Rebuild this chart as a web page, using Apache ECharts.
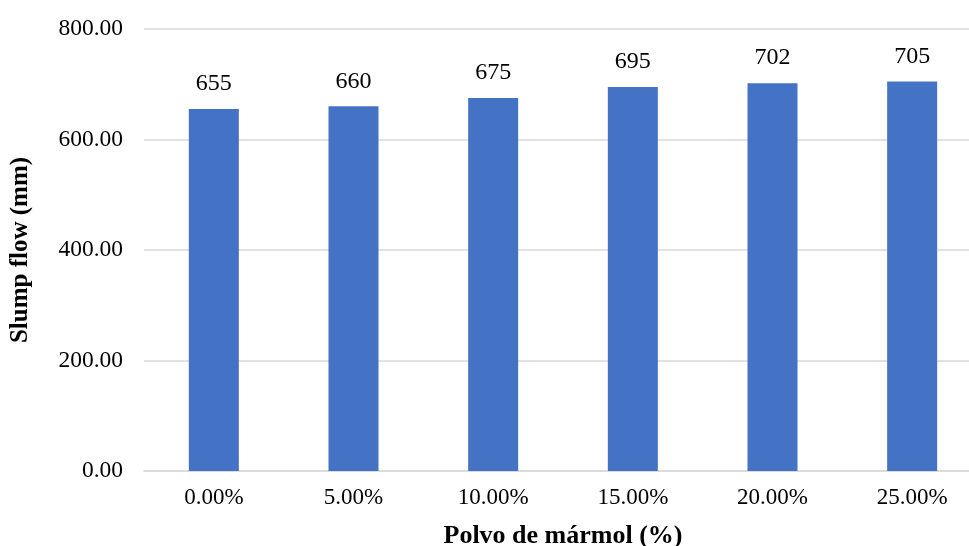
<!DOCTYPE html>
<html>
<head>
<meta charset="utf-8">
<script src="https://cdn.jsdelivr.net/npm/echarts@6/dist/echarts.min.js"></script>
<style>html,body{margin:0;padding:0;background:#fff;overflow:hidden;}#c{width:969px;height:546px;}</style>
</head>
<body>
<div id="c"></div>
<script>
const categories = ['0.00%', '5.00%', '10.00%', '15.00%', '20.00%', '25.00%'];
const slumpFlow = [655, 660, 675, 695, 702, 705];
const yTicks = [0, 200, 400, 600, 800];
const xTitle = 'Polvo de mármol (%)';
const yTitle = 'Slump flow (mm)';

const FONT = '"Liberation Serif", "Times New Roman", serif';
const chart = echarts.init(document.getElementById('c'), null, {renderer: 'canvas', width: 969, height: 546});
chart.setOption({
  animation: false,
  grid: {left: 144, width: 838, top: 29, height: 442, containLabel: false, outerBoundsMode: 'none'},
  xAxis: {
    type: 'category',
    data: categories,
    axisLine: {lineStyle: {color: '#d9d9d9', width: 1.5}},
    axisTick: {show: false},
    axisLabel: {color: '#000', fontFamily: FONT, fontSize: 23, margin: 15},
    name: xTitle,
    nameLocation: 'middle',
    nameGap: 52,
    nameTextStyle: {color: '#000', fontFamily: FONT, fontSize: 26, fontWeight: 'bold'}
  },
  yAxis: {
    type: 'value',
    min: yTicks[0],
    max: yTicks[yTicks.length - 1],
    interval: 200,
    axisLine: {show: false},
    axisTick: {show: false},
    splitLine: {lineStyle: {color: '#d9d9d9', width: 1.5}},
    axisLabel: {color: '#000', fontFamily: FONT, fontSize: 23.5, margin: 21,
      formatter: v => v.toFixed(2)},
    name: yTitle,
    nameLocation: 'middle',
    nameGap: 111,
    nameTextStyle: {color: '#000', fontFamily: FONT, fontSize: 25, fontWeight: 'bold'}
  },
  series: [{
    type: 'bar',
    data: slumpFlow,
    barWidth: 50,
    itemStyle: {color: '#4472C4'},
    label: {show: true, position: 'top', distance: 13, color: '#000',
      fontFamily: FONT, fontSize: 24}
  }]
});
</script>
</body>
</html>
